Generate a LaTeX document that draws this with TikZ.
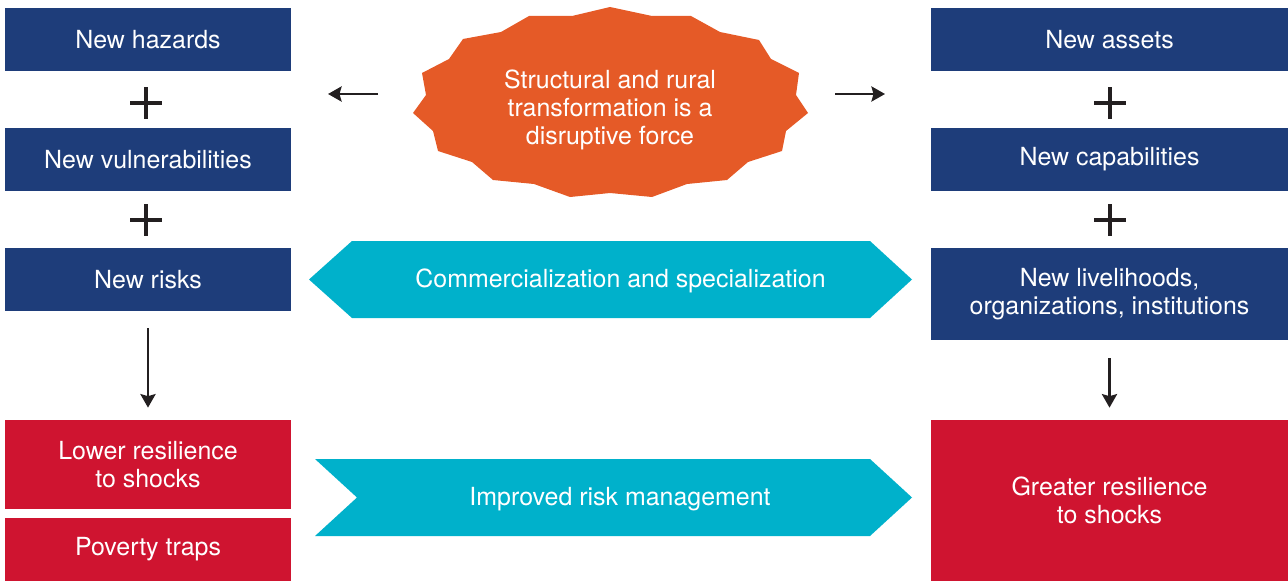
\documentclass[tikz,border=0pt]{standalone}
\usepackage{fontspec}
\setmainfont{TeX Gyre Heros}
\usepackage{tikz}
\usetikzlibrary{arrows.meta}
\definecolor{riskblue}{HTML}{1E3D7A}
\definecolor{riskred}{HTML}{CF1430}
\definecolor{riskorange}{HTML}{E55A27}
\definecolor{riskcyan}{HTML}{00B1CB}
\definecolor{riskgray}{HTML}{231F20}

\begin{document}
\begin{tikzpicture}[x=0.02cm,y=-0.02cm,
  box/.style={rectangle,fill=riskblue,text=white,minimum width=5.72cm,
    minimum height=1.26cm,inner sep=0pt,align=center,
    font=\fontsize{14.2}{15.9}\selectfont},
  widebox/.style={box,minimum width=7.14cm},
  redbox/.style={box,fill=riskred},
  label/.style={text=white,align=center,font=\fontsize{14.2}{15.9}\selectfont},
  plusmark/.style={minimum size=0.64cm,inner sep=0pt,
    path picture={\draw[line width=1.8pt,riskgray]
      (path picture bounding box.north) -- (path picture bounding box.south)
      (path picture bounding box.west) -- (path picture bounding box.east);}},
  arr/.style={-{Stealth[length=2.7mm,width=3mm,inset=0.4mm]},line width=1.6pt,color=riskgray}
]
  \useasboundingbox (0,0) rectangle (1288,581);

  % left column
  \node[box] (haz)  at (148,39.5)  {New hazards};
  \node[box] (vul)  at (148,159.5) {New vulnerabilities};
  \node[box] (risk) at (148,279.5) {New risks};
  \node[redbox,minimum height=1.78cm] (low) at (148,464.5) {Lower resilience\\to shocks};
  \node[redbox] (pov) at (148,549.5) {Poverty traps};

  % right column
  \node[widebox] (ast) at (1109.5,39.5)  {New assets};
  \node[widebox] (cap) at (1109.5,159.5) {New capabilities};
  \node[widebox,minimum height=1.84cm] (liv) at (1109.5,294) {New livelihoods,\\organizations, institutions};
  \node[redbox,minimum width=7.14cm,minimum height=3.22cm] (grt) at (1109.5,500.5) {Greater resilience\\to shocks};

  \node[plusmark] (plusa) at (146,103) {};
  \node[plusmark] (plusb) at (146,220) {};
  \node[plusmark] (plusc) at (1110,103) {};
  \node[plusmark] (plusd) at (1110,220) {};

  % disruptive force
  \fill[riskorange] (610,7) -- (652,16) -- (691,16) -- (720,32) -- (759,40)
    -- (771,59) -- (799,73) -- (796,95) -- (808,113) -- (786,131) -- (782,151)
    -- (748,162) -- (727,180) -- (687,184) -- (652,197) -- (610,193) -- (570,197)
    -- (534,184) -- (493,180) -- (472,162) -- (438,151) -- (433,131) -- (413,113)
    -- (426,95) -- (422,73) -- (449,59) -- (463,39) -- (501,32) -- (529,16)
    -- (572,16) -- cycle;
  \node[label] (burst) at (610,109.5) {Structural and rural\\transformation is a\\disruptive force};

  % bands
  \fill[riskcyan] (309,279.5) -- (352,241) -- (870,241) -- (912,279.5)
    -- (870,318) -- (352,318) -- cycle;
  \node[label] (com) at (620.5,281) {Commercialization and specialization};
  \fill[riskcyan] (315,459) -- (870,459) -- (912,497.5) -- (870,536)
    -- (315,536) -- (357,497.5) -- cycle;
  \node[label] (irm) at (620,499) {Improved risk management};

  % arrows
  \coordinate (lfrom) at (378,94);
  \coordinate (lto)   at (328,94);
  \coordinate (rfrom) at (835,94);
  \coordinate (rto)   at (885,94);
  \draw[arr] (lfrom) -- (lto);
  \draw[arr] (rfrom) -- (rto);
  \draw[arr,shorten <=0.34cm,shorten >=0.24cm] (risk.south) -- (low.north);
  \draw[arr,shorten <=0.36cm,shorten >=0.24cm] (liv.south) -- (grt.north);
\end{tikzpicture}
\end{document}
